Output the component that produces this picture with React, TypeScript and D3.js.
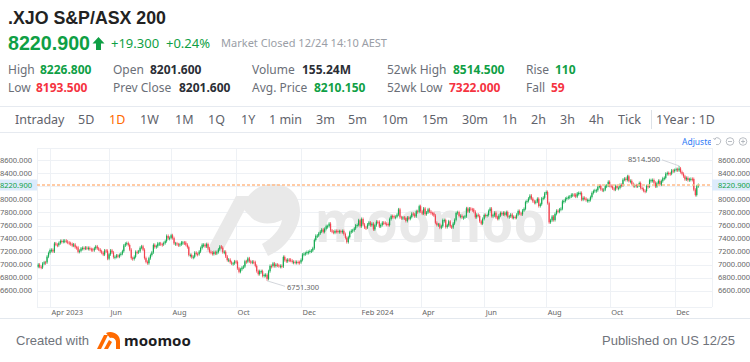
import React, { useMemo } from 'react'
import * as d3 from 'd3'

// daily closes (Mar 22 2023 -> Dec 24 2024)
const closes2023 = [
  // Mar
  6999, 6967, 6955, 7015, 7035, 7034, 7122, 7178,
  // Apr
  7224, 7227, 7201, 7325, 7305, 7298, 7330, 7362, 7352, 7365, 7367, 7354, 7337, 7328, 7317, 7291, 7309,
  // May
  7267, 7264, 7196, 7211, 7247, 7256, 7250, 7261, 7255, 7256, 7237, 7234, 7220, 7250, 7279, 7249, 7230, 7205, 7182, 7154, 7217, 7212, 7091,
  // Jun
  7158, 7217, 7187, 7115, 7119, 7140, 7122, 7148, 7167, 7205, 7294, 7320, 7330, 7301, 7229, 7099, 7085, 7119, 7196, 7195, 7203,
  // Jul
  7258, 7280, 7229, 7100, 7042, 7021, 7098, 7147, 7188, 7303, 7268, 7282, 7325, 7325, 7313, 7310, 7330, 7360, 7440, 7403, 7410,
  // Aug
  7450, 7406, 7325, 7326, 7311, 7303, 7311, 7340, 7340, 7338, 7305, 7268, 7148, 7148, 7113, 7120, 7183, 7164, 7160, 7200, 7255, 7305, 7305,
  // Sep
  7279, 7314, 7247, 7196, 7185, 7162, 7192, 7169, 7192, 7233, 7278, 7260, 7190, 7197, 7125, 7069, 7076, 7037, 7015, 7020, 7049,
  // Oct
  7042, 6943, 6890, 6928, 6955, 6970, 7051, 7045, 7096, 7051, 7030, 7045, 7037, 6981, 6900, 6855, 6900, 6900, 6827, 6839, 6844, 6781,
  // Nov
  6899, 6980, 6978, 7018, 6977, 7000, 6990, 6977, 6981, 6971, 7118, 7068, 7050, 7077, 7076, 7060, 7040, 7043, 7040, 7041, 7038, 7035,
  // Dec
  7073, 7155, 7167, 7175, 7194, 7194, 7209, 7216, 7251, 7377, 7442, 7445, 7479, 7506, 7537, 7502, 7548, 7590, 7590,
]

const closes2024 = [
  // Jan
  7629, 7523, 7505, 7489, 7517, 7516, 7499, 7513, 7498, 7516, 7469, 7411, 7346, 7421, 7497, 7519, 7526, 7555, 7601, 7608, 7680,
  // Feb
  7588, 7699, 7616, 7570, 7568, 7615, 7645, 7603, 7628, 7540, 7605, 7658, 7656, 7584, 7608, 7644, 7643, 7626, 7623, 7606, 7699,
  // Mar
  7745, 7744, 7724, 7733, 7766, 7847, 7726, 7713, 7723, 7714, 7670, 7722, 7703, 7731, 7782, 7771, 7740, 7819, 7811, 7896,
  // Apr
  7817, 7782, 7861, 7773, 7800, 7848, 7813, 7789, 7788, 7752, 7642, 7606, 7617, 7567, 7589, 7683, 7683, 7576, 7604, 7664,
  // May
  7587, 7570, 7629, 7686, 7793, 7804, 7747, 7749, 7726, 7726, 7740, 7863, 7814, 7860, 7848, 7846, 7811, 7727, 7765, 7747, 7665, 7628, 7701,
  // Jun
  7761, 7750, 7761, 7822, 7860, 7745, 7756, 7796, 7726, 7702, 7752, 7791, 7771, 7796, 7763, 7805, 7733, 7741, 7768,
  // Jul
  7719, 7732, 7718, 7766, 7822, 7786, 7770, 7829, 7855, 7959, 7975, 8013, 8058, 8011, 7971, 7948, 7966, 8010, 7898, 7926, 8015, 8025, 8092,
  // Aug
  8114, 7943, 7649, 7680, 7738, 7683, 7778, 7826, 7811, 7846, 7857, 7971, 7975, 8011, 8022, 8036, 8044, 8071, 8074, 8072, 8043, 8091,
  // Sep
  8098, 8100, 7996, 8025, 8013, 7988, 7990, 7990, 8036, 8099, 8127, 8140, 8141, 8192, 8209, 8155, 8149, 8150, 8204, 8212, 8270,
  // Oct
  8209, 8198, 8168, 8150, 8205, 8175, 8177, 8223, 8215, 8302, 8318, 8298, 8355, 8283, 8285, 8238, 8206, 8217, 8211, 8214, 8251, 8175, 8160,
  // Nov
  8132, 8128, 8204, 8198, 8295, 8295, 8298, 8255, 8199, 8247, 8285, 8227, 8280, 8324, 8330, 8394, 8405, 8401, 8394, 8444, 8436,
  // Dec
  8450, 8464, 8445, 8475, 8420, 8393, 8354, 8307, 8330, 8296, 8309, 8315, 8313, 8149, 8067, 8201.6, 8220.9,
]

const firstOpen = 6968
const lastPrice = 8220.9
const highMark = { date: '2024-12-05', value: 8514.5 }
const lowMark = { date: '2023-10-31', value: 6751.3 }

const holidays = [
  '2023-04-07', '2023-04-10', '2023-04-25', '2023-06-12', '2023-12-25', '2023-12-26',
  '2024-01-01', '2024-01-26', '2024-03-29', '2024-04-01', '2024-04-25', '2024-06-10',
  '2024-12-25', '2024-12-26',
]

const yTicks = [6600, 6800, 7000, 7200, 7400, 7600, 7800, 8000, 8200, 8400, 8600]
const xTickMonths = ['2023-04', '2023-06', '2023-08', '2023-10', '2023-12', '2024-02', '2024-04', '2024-06', '2024-08', '2024-10', '2024-12']
const xTickLabels = ['Apr 2023', 'Jun', 'Aug', 'Oct', 'Dec', 'Feb 2024', 'Apr', 'Jun', 'Aug', 'Oct', 'Dec']

const tabs = ['Intraday', '5D', '1D', '1W', '1M', '1Q', '1Y', '1 min', '3m', '5m', '10m', '15m', '30m', '1h', '2h', '3h', '4h', 'Tick']
const tabX = [15, 78, 109, 140, 175, 208, 241, 269, 316, 348, 382, 422, 462, 502, 531, 560, 589, 618]

const statsRow1 = [
  { label: 'High', lx: 8, value: '8226.800', vx: 40, color: 'up' },
  { label: 'Open', lx: 113, value: '8201.600', vx: 150, color: 'dark' },
  { label: 'Volume', lx: 252, value: '155.24M', vx: 302, color: 'dark' },
  { label: '52wk High', lx: 387, value: '8514.500', vx: 453, color: 'up' },
  { label: 'Rise', lx: 526, value: '110', vx: 555, color: 'up' },
]
const statsRow2 = [
  { label: 'Low', lx: 8, value: '8193.500', vx: 36, color: 'down' },
  { label: 'Prev Close', lx: 113, value: '8201.600', vx: 179, color: 'dark' },
  { label: 'Avg. Price', lx: 252, value: '8210.150', vx: 314, color: 'up' },
  { label: '52wk Low', lx: 387, value: '7322.000', vx: 449, color: 'down' },
  { label: 'Fall', lx: 526, value: '59', vx: 551, color: 'down' },
]

const UP = '#16ab52'
const DOWN = '#f2434f'
const TXT_UP = '#0f9f45'
const TXT_DOWN = '#f5333f'
const FONT = '"Noto Sans", "Open Sans", Arial, sans-serif'
const HEAD_FONT = '"Liberation Sans", Arial, sans-serif'

function tradingDays(start: string, end: string) {
  const out: string[] = []
  const hol = new Set(holidays)
  const d = new Date(start + 'T00:00:00Z')
  const e = new Date(end + 'T00:00:00Z')
  while (d <= e) {
    const wd = d.getUTCDay()
    const key = d.toISOString().slice(0, 10)
    if (wd !== 0 && wd !== 6 && !hol.has(key)) out.push(key)
    d.setUTCDate(d.getUTCDate() + 1)
  }
  return out
}

export default function App() {
  const closes = useMemo(() => [...closes2023, ...closes2024], [])
  const dates = useMemo(() => tradingDays('2023-03-22', '2024-12-24'), [])

  const left = 37
  const right = 712
  const top = 148
  const bottom = 307

  const x = d3.scaleLinear().domain([-0.8, 456.3]).range([left, right])
  const y = d3.scaleLinear().domain([6600, 8600]).range([290.7, 160.3])
  const fmt = d3.format('.3f')

  const candles = closes.map((c, i) => {
    const o = i === 0 ? firstOpen : closes[i - 1]
    const date = dates[i]
    let hi = Math.max(o, c)
    let lo = Math.min(o, c)
    if (date === highMark.date) hi = highMark.value
    if (date === lowMark.date) lo = lowMark.value
    return { i, o, c, hi, lo, up: c >= o, date }
  })

  const xTicks = xTickMonths.map((m, k) => {
    const idx = dates.findIndex((d) => d.startsWith(m))
    return { x: x(idx), label: xTickLabels[k] }
  })

  const hiIdx = dates.indexOf(highMark.date)
  const loIdx = dates.indexOf(lowMark.date)
  const yLast = y(lastPrice)

  return (
    <div style={{ position: 'absolute', left: 0, top: 0 }}>
      <svg width={750} height={362} style={{ display: 'block', background: '#fff', fontFamily: FONT }}>
        <defs>
          <clipPath id="adjClip">
            <rect x={670} y={132} width={41} height={16} />
          </clipPath>
        </defs>

        {/* header */}
        <text x={8} y={24} fontSize={19} fontWeight={700} fill="#222" fontFamily={HEAD_FONT} textLength={158} lengthAdjust="spacingAndGlyphs">.XJO S&amp;P/ASX 200</text>
        <text x={8} y={50} fontSize={21} fontWeight={700} fill={TXT_UP} fontFamily={HEAD_FONT} textLength={82} lengthAdjust="spacingAndGlyphs">8220.900</text>
        <polygon points="98.5,37 104.5,43.5 101,43.5 101,50 96,50 96,43.5 92.5,43.5" fill={TXT_UP} />
        <text x={111} y={48} fontSize={13} fill={TXT_UP}>+19.300</text>
        <text x={166} y={48} fontSize={13} fill={TXT_UP}>+0.24%</text>
        <text x={221} y={47} fontSize={11.5} fill="#9a9ea6" textLength={166} lengthAdjust="spacingAndGlyphs">Market Closed  12/24 14:10 AEST</text>

        {[statsRow1, statsRow2].map((row, r) =>
          row.map((s) => (
            <g key={`${r}-${s.label}`}>
              <text x={s.lx} y={r === 0 ? 74 : 91.5} fontSize={12} fill="#6b6f78">{s.label}</text>
              <text
                x={s.vx}
                y={r === 0 ? 74 : 91.5}
                fontSize={12}
                fontWeight={700}
                fill={s.color === 'up' ? TXT_UP : s.color === 'down' ? TXT_DOWN : '#2b2e36'}
              >
                {s.value}
              </text>
            </g>
          ))
        )}

        {/* tabs */}
        <line x1={0} x2={750} y1={106.5} y2={106.5} stroke="#e6eaf0" />
        <line x1={0} x2={750} y1={132.5} y2={132.5} stroke="#e6eaf0" />
        {tabs.map((t, k) => (
          <text key={t} x={tabX[k]} y={123.5} fontSize={12.5} fill={t === '1D' ? '#ff6a00' : '#5f636b'}>{t}</text>
        ))}
        <line x1={651.5} x2={651.5} y1={110} y2={129} stroke="#dde2e8" />
        <text x={656} y={123.5} fontSize={12.5} fill="#5f636b">1Year : 1D</text>

        <text x={682} y={144.5} fontSize={8.5} fill="#2f7cf6" clipPath="url(#adjClip)">Adjusted</text>
        <g fill="none" stroke="#a8adb5" strokeWidth={0.8}>
          <path d="M714.5,139 A3.5,3.5 0 1 1 716,144.5" />
          <path d="M713.5,138 L714.6,139.4 L716,138.5" />
          <circle cx={730} cy={141.5} r={3.8} />
          <line x1={728} x2={732} y1={141.5} y2={141.5} />
          <circle cx={743} cy={141.5} r={3.8} />
          <line x1={741} x2={745} y1={141.5} y2={141.5} />
          <line x1={743} x2={743} y1={139.5} y2={143.5} />
        </g>

        {/* grid */}
        <g stroke="#eef1f5" strokeWidth={1}>
          <line x1={left} x2={right} y1={top + 0.5} y2={top + 0.5} />
          <line x1={left} x2={right} y1={bottom + 0.5} y2={bottom + 0.5} />
          {yTicks.map((t) => (
            <line key={t} x1={left} x2={right} y1={Math.round(y(t)) + 0.5} y2={Math.round(y(t)) + 0.5} />
          ))}
          <line x1={left + 0.5} x2={left + 0.5} y1={top} y2={bottom} />
          <line x1={right + 0.5} x2={right + 0.5} y1={top} y2={bottom} />
          {xTicks.map((t) => (
            <line key={t.label + t.x} x1={Math.round(t.x) + 0.5} x2={Math.round(t.x) + 0.5} y1={top} y2={bottom} />
          ))}
        </g>

        {/* watermark */}
        <g fill="#e9e9e9">
          <path d="M206,252 L222,252 L252,196 L236,196 Z" />
          <path d="M244,206 C248,188 268,180 284,186 C300,192 304,212 296,228 C290,240 282,250 268,256 L262,244 C272,238 280,230 282,220 C270,226 256,224 250,216 C246,212 243,210 244,206 Z" />
          <text x={315} y={242} fontSize={58} fontWeight={700} textLength={231} lengthAdjust="spacingAndGlyphs">moomoo</text>
        </g>

        {/* y labels */}
        <g fontSize={7.5} fill="#666">
          {yTicks.map((t) => (
            <g key={t}>
              <text x={32} y={y(t)} dy="0.35em" textAnchor="end">{fmt(t)}</text>
              <text x={718} y={y(t)} dy="0.35em">{fmt(t)}</text>
            </g>
          ))}
        </g>

        {/* candles */}
        <g>
          {candles.map((d) => {
            const cx = x(d.i)
            const yt = y(Math.max(d.o, d.c))
            const yb = y(Math.min(d.o, d.c))
            const h = Math.max(1, yb - yt)
            const wt = Math.min(y(d.hi), yt - 1.5)
            const wb = Math.max(y(d.lo), yt + h + 1.5)
            const col = d.up ? UP : DOWN
            return (
              <g key={d.i} fill={col}>
                <rect x={cx - 0.35} width={0.7} y={wt} height={wb - wt} />
                <rect x={cx - 0.6} width={1.2} y={yt} height={h} />
              </g>
            )
          })}
        </g>

        {/* annotations */}
        <g fontSize={7.5} fill="#666">
          <line x1={x(hiIdx)} y1={y(highMark.value)} x2={x(hiIdx) - 17} y2={y(highMark.value) - 6} stroke="#c8ccd2" strokeWidth={0.8} />
          <text x={x(hiIdx) - 19} y={y(highMark.value) - 6} dy="0.35em" textAnchor="end">{fmt(highMark.value)}</text>
          <line x1={x(loIdx)} y1={y(lowMark.value)} x2={x(loIdx) + 18} y2={y(lowMark.value) + 5.5} stroke="#c8ccd2" strokeWidth={0.8} />
          <text x={x(loIdx) + 20} y={y(lowMark.value) + 6.5} dy="0.35em">{fmt(lowMark.value)}</text>
        </g>

        {/* last price line */}
        <line x1={left} x2={right} y1={yLast} y2={yLast} stroke="#ffbb88" strokeWidth={1.5} strokeDasharray="3,2" />
        <rect x={0} y={yLast - 5.5} width={37} height={11} fill="#dcebfb" />
        <rect x={712} y={yLast - 5.5} width={38} height={11} fill="#dcebfb" />
        <text x={32} y={yLast} dy="0.35em" fontSize={7.5} fill={TXT_UP} textAnchor="end">{fmt(lastPrice)}</text>
        <text x={718} y={yLast} dy="0.35em" fontSize={7.5} fill={TXT_UP}>{fmt(lastPrice)}</text>

        {/* x labels */}
        <g fontSize={7.5} fill="#666">
          {xTicks.map((t) => (
            <text key={t.label + t.x} x={t.x + 1.5} y={315}>{t.label}</text>
          ))}
        </g>
        <line x1={0} x2={750} y1={318.5} y2={318.5} stroke="#e3e8ee" />

        {/* footer */}
        <text x={16} y={345} fontSize={13} fill="#6f737b" fontFamily='"Liberation Sans Narrow", sans-serif'>Created with</text>
        <g fill="#ff6a00">
          <path d="M97,349 L104,335 L108,335 L101,349 Z" />
          <path d="M106,333 C112,330 120,334 120,341 L120,349 L116,349 L116,342 C116,339 113,337 110,338 Z" />
          <path d="M104,349 L109,340 L112,342 L108,349 Z" />
        </g>
        <text x={124} y={346} fontSize={15} fontWeight={700} fill="#1d1d1f">moomoo</text>
        <text x={735} y={345} fontSize={13} fill="#6f737b" textAnchor="end" fontFamily='"Liberation Sans Narrow", sans-serif'>Published on US 12/25</text>
      </svg>
    </div>
  )
}
